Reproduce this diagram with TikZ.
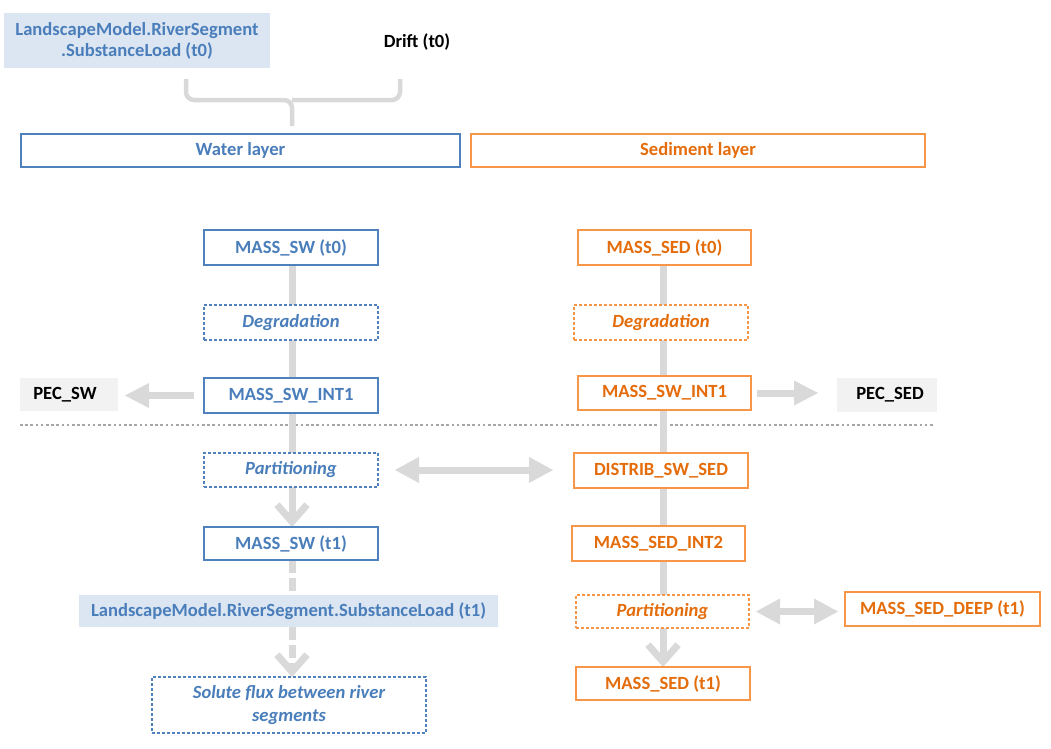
\documentclass[tikz,border=0pt]{standalone}
\usepackage{fontspec}
\setmainfont{Carlito}
\usetikzlibrary{arrows.meta,backgrounds}
\definecolor{cblue}{HTML}{4F81BD}
\definecolor{ctblue}{HTML}{4A7EBB}
\definecolor{corange}{HTML}{F79646}
\definecolor{ctorange}{HTML}{E46C0A}
\definecolor{lblue}{HTML}{DCE6F2}
\definecolor{lgray}{HTML}{F2F2F2}
\definecolor{cline}{HTML}{D9D9D9}
\definecolor{csep}{HTML}{A6A6A6}
\begin{document}
\begin{tikzpicture}[x=1pt,y=-1pt,
  every node/.style={font=\fontsize{18.6}{21}\selectfont\bfseries, inner sep=0pt, outer sep=0pt},
  bluebox/.style={draw=cblue, text=ctblue, fill=white, line width=2.8pt},
  orangebox/.style={draw=corange, text=ctorange, fill=white, line width=2.8pt},
  dotbox/.style={dash pattern=on 2.6pt off 2.4pt, font=\fontsize{18.6}{23}\selectfont\bfseries\itshape},
  loadbox/.style={fill=lblue, text=ctblue},
  pecbox/.style={fill=lgray, text=black},
  flow/.style={draw=cline, line width=7pt},
  barb/.style={flow, -{Straight Barb[length=17pt,width=30pt]}},
  dflow/.style={flow, dash pattern=on 13pt off 5pt},
  blockarrow/.style={draw=cline, line width=7pt, -{Triangle[length=24pt,width=25pt,line width=0pt]}},
  dblockarrow/.style={draw=cline, line width=7pt, {Triangle[length=24pt,width=26pt,line width=0pt]}-{Triangle[length=24pt,width=26pt,line width=0pt]}},
  brace/.style={draw=cline, line width=4.5pt, rounded corners=8pt},
  sepline/.style={draw=csep, line width=2.5pt, dash pattern=on 2.6pt off 2.6pt}
]
\useasboundingbox (0,0) rectangle (1051,748);

% top
\node[loadbox, minimum width=266pt, minimum height=55pt, align=center] (lm0) at (137,40.5)
  {LandscapeModel.RiverSegment\\.SubstanceLoad (t0)};
\node[text=black] (drift) at (417,42) {Drift (t0)};

\node[bluebox, minimum width=439pt, minimum height=33pt] (water) at (240.5,150.5) {Water layer};
\node[orangebox, minimum width=454pt, minimum height=33pt] (sed) at (698,150.5) {Sediment layer};

% water column
\node[bluebox, minimum width=174pt, minimum height=35pt] (msw0) at (291,247.5) {MASS\_SW (t0)};
\node[bluebox, dotbox, minimum width=174pt, minimum height=35pt] (degsw) at (291,322.5) {Degradation};
\node[bluebox, minimum width=174pt, minimum height=35pt] (mswi1) at (291,395.5) {MASS\_SW\_INT1};
\node[pecbox, minimum width=98pt, minimum height=33pt] (pecsw) at (69,394.5) {PEC\_SW\hspace*{8pt}};
\node[bluebox, dotbox, minimum width=174pt, minimum height=34pt] (partsw) at (291,470) {Partitioning};
\node[bluebox, minimum width=174pt, minimum height=33pt] (msw1) at (291,543.5) {MASS\_SW (t1)};
\node[loadbox, minimum width=419pt, minimum height=32pt] (lm1) at (288.5,611) {LandscapeModel.RiverSegment.SubstanceLoad (t1)};
\node[bluebox, dotbox, minimum width=274pt, minimum height=56pt, align=center] (solute) at (289,705)
  {Solute flux between river\\segments};

% sediment column
\node[orangebox, minimum width=173pt, minimum height=35pt] (msed0) at (664.5,247.5) {MASS\_SED (t0)};
\node[orangebox, dotbox, minimum width=174pt, minimum height=35pt] (degsed) at (661,322.5) {Degradation};
\node[orangebox, minimum width=173pt, minimum height=34pt] (mswi1s) at (664.5,393) {MASS\_SW\_INT1};
\node[pecbox, minimum width=100pt, minimum height=34pt] (pecsed) at (887,395) {\hspace*{6pt}PEC\_SED};
\node[orangebox, minimum width=174pt, minimum height=35pt] (distrib) at (661,470.5) {DISTRIB\_SW\_SED};
\node[orangebox, minimum width=173pt, minimum height=35pt] (msedi2) at (658.5,543.5) {MASS\_SED\_INT2};
\node[orangebox, dotbox, minimum width=173pt, minimum height=33pt] (partsed) at (662.5,611.5) {Partitioning};
\node[orangebox, minimum width=195pt, minimum height=34pt] (deep) at (942.5,609) {MASS\_SED\_DEEP (t1)};
\node[orangebox, minimum width=174pt, minimum height=33pt] (msed1) at (663,683.5) {MASS\_SED (t1)};

% separator
\coordinate (sepL) at (20,425);
\coordinate (sepR) at (935,425);

% brace coordinates
\coordinate (bL) at (186,79);
\coordinate (bR) at (400,79);
\coordinate (bM) at (292,100);
\coordinate (bT) at (292,126);

\begin{scope}[on background layer]
  \fill[white] (0,0) rectangle (1051,748);
  \draw[sepline] (sepL) -- (sepR);
  \draw[brace] (bL) -- (186,100) -- (bM) -- (bT);
  \draw[brace] (bR) -- (400,100) -- (bM);
  % water flow
  \draw[flow] (msw0.south -| 292,0) -- (partsw.north -| 292,0);
  \draw[barb] (partsw.south -| 292,0) -- (msw1.north -| 292,0);
  \draw[dflow] (msw1.south -| 292,0) -- (lm1.north -| 292,0);
  \draw[barb, dash pattern=on 13pt off 5pt] (lm1.south -| 292,0) -- (solute.north -| 292,0);
  % sediment flow
  \draw[flow] (msed0.south -| 663,0) -- (partsed.north -| 663,0);
  \draw[barb] (partsed.south -| 663,0) -- (msed1.north -| 663,0);
\end{scope}

\draw[blockarrow, shorten <=10pt, shorten >=7pt] (mswi1.west) -- (pecsw.east |- mswi1.west);
\draw[blockarrow, shorten <=6pt, shorten >=19pt] (mswi1s.east) -- (pecsed.west |- mswi1s.east);
\draw[dblockarrow, shorten <=17pt, shorten >=21pt] (partsw.east) -- (distrib.west |- partsw.east);
\draw[dblockarrow, shorten <=7pt, shorten >=7pt] (partsed.east) -- (deep.west |- partsed.east);
\end{tikzpicture}
\end{document}
